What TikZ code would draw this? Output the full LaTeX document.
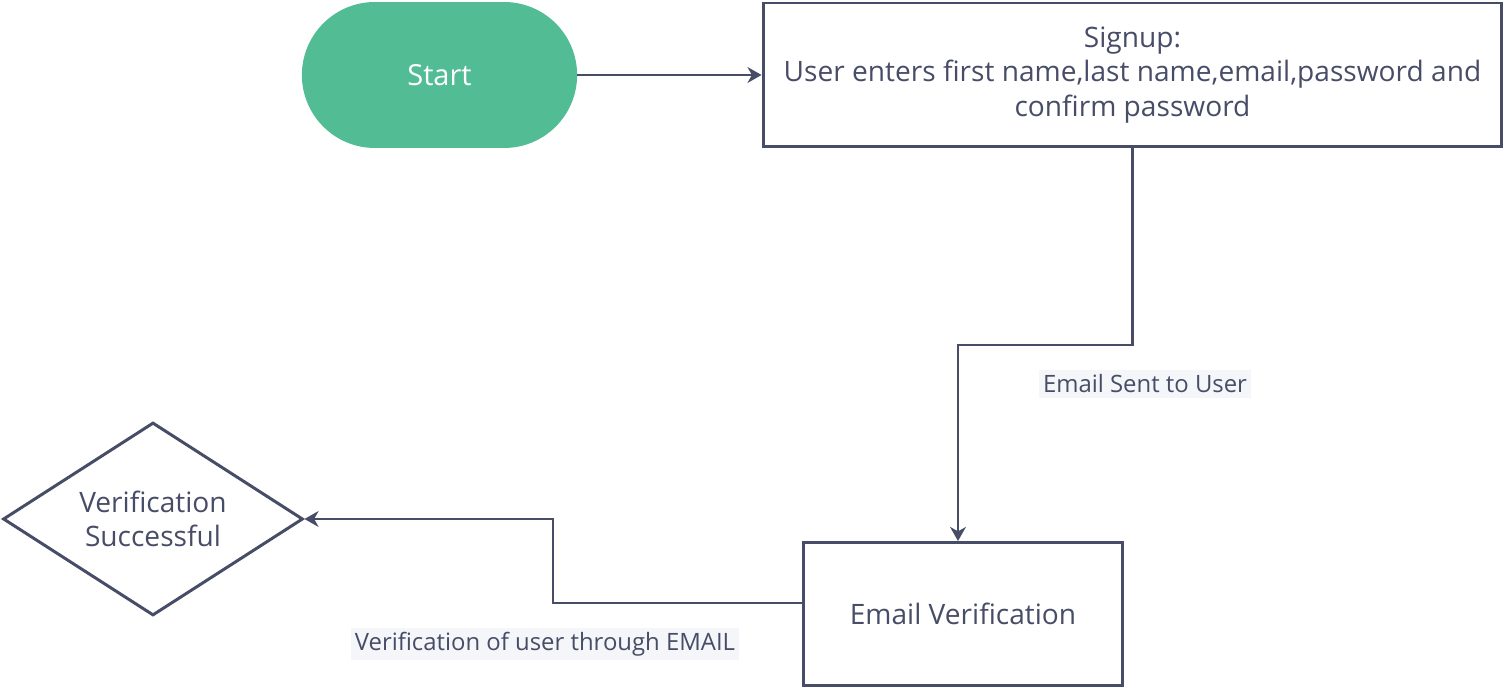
\documentclass[tikz,border=0pt]{standalone}
\usepackage{fontspec}
\setmainfont{Open Sans}
\usetikzlibrary{arrows.meta,shapes.geometric,shapes.misc}
\definecolor{ink}{HTML}{474D66}
\definecolor{startgreen}{HTML}{52BD94}
\definecolor{labelbg}{HTML}{F4F6FA}

\begin{document}
\begin{tikzpicture}[x=0.02cm,y=-0.02cm,
  box/.style={draw=ink, line width=1.7pt, text=ink, font=\fontsize{16}{19.5}\selectfont, align=center, inner sep=0pt},
  conn/.style={draw=ink, line width=1.25pt, -{Stealth[length=8pt,width=9pt,inset=2.5pt]}},
  edgelabel/.style={fill=labelbg, text=ink, font=\fontsize{13.6}{15}\selectfont, inner sep=2.5pt}]
  \useasboundingbox (0,0) rectangle (1504,688);
  % nodes
  \node[rounded rectangle, fill=startgreen, text=white, font=\fontsize{16.5}{18}\selectfont,
        minimum width=5.74cm, minimum height=2.92cm] (start) at (439.5,75) {Start};
  \node[box, rectangle, minimum width=14.78cm, minimum height=2.88cm] (signup) at (1132.5,75)
        {Signup:\\User enters first name,last name,email,password and\\confirm password};
  \node[box, rectangle, minimum width=6.4cm, minimum height=2.86cm] (email) at (963,614) {Email Verification};
  \node[box, diamond, aspect=1.55, minimum width=6cm, minimum height=3.86cm] (success) at (153,519)
        {Verification\\Successful};
  \coordinate (bend1) at (958,345);
  \coordinate (bend2) at (553,519);
  % connectors
  \draw[conn] (start.east) -- (signup.west);
  \draw[conn] (signup.south) |- (bend1) -- (bend1 |- email.north);
  \draw[conn] ([yshift=6.3pt]email.west) -| (bend2) -- (success.east);
  % labels
  \node[edgelabel] (sentlabel) at (1145,384) {Email Sent to User};
  \node[edgelabel] (verlabel) at (545,644) {Verification of user through EMAIL};
\end{tikzpicture}
\end{document}
